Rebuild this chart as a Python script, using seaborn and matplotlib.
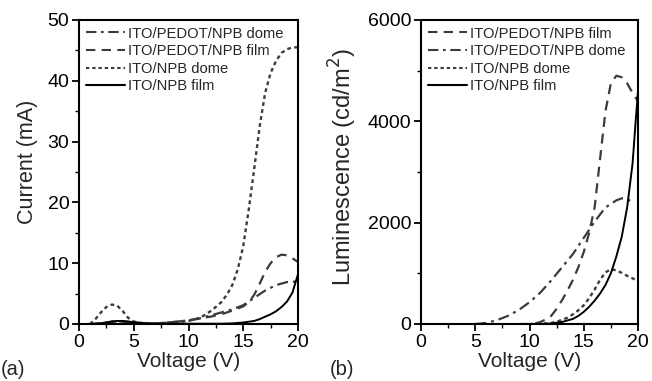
import matplotlib
matplotlib.use("Agg")
import matplotlib.pyplot as plt
from matplotlib.ticker import MultipleLocator
import numpy as np
import pandas as pd
import seaborn as sns

# ---------------- data: (a) current ----------------
cur_pedot_dome_v = [1.5, 2, 3, 4, 5, 6, 7, 8, 9, 10, 11, 12, 13, 14, 15, 16, 17, 18, 19, 20]
cur_pedot_dome_i = [0, 0.1, 0.4, 0.4, 0.3, 0.1, 0.1, 0.2, 0.4, 0.6, 0.9, 1.4, 1.9, 2.4, 3.1, 4.3, 5.5, 6.4, 6.9, 7.0]

cur_pedot_film_v = [1, 2, 3, 4, 5, 6, 7, 8, 9, 10, 11, 12, 13, 14, 15, 15.5, 16, 16.5, 17, 17.5, 18, 18.5, 19, 19.5, 20]
cur_pedot_film_i = [0, 0.1, 0.4, 0.4, 0.2, 0.1, 0.1, 0.2, 0.4, 0.6, 0.9, 1.2, 1.6, 2.2, 2.9, 3.6, 4.8, 6.6, 8.6, 10.0, 11.0, 11.4, 11.3, 10.8, 10.2]

cur_npb_dome_v = [1, 1.5, 2, 2.5, 3, 3.5, 4, 4.5, 5, 6, 7, 8, 9, 10, 11, 11.5, 12, 12.5, 13, 13.5, 14, 14.5, 15, 15.5, 16, 16.5, 17, 17.5, 18, 18.5, 19, 19.5, 20]
cur_npb_dome_i = [0, 0.8, 1.9, 2.8, 3.2, 3.0, 2.1, 1.0, 0.4, 0.1, 0.1, 0.2, 0.3, 0.5, 1.0, 1.5, 2.1, 2.8, 3.6, 4.8, 6.4, 9.0, 12.8, 18.8, 25.5, 32.5, 38.0, 41.3, 43.3, 44.6, 45.2, 45.5, 45.5]

cur_npb_film_v = [1, 2, 3, 3.5, 4, 5, 6, 7, 8, 9, 10, 11, 12, 13, 14, 15, 16, 16.5, 17, 17.5, 18, 18.5, 19, 19.5, 20]
cur_npb_film_i = [0, 0.1, 0.4, 0.5, 0.5, 0.3, 0.1, 0.05, 0.05, 0.05, 0.05, 0.05, 0.05, 0.05, 0.1, 0.25, 0.5, 0.8, 1.2, 1.6, 2.1, 2.8, 3.7, 5.2, 8.2]

# ---------------- data: (b) luminescence ----------------
lum_pedot_film_v = [9, 10, 10.5, 11, 11.5, 12, 12.5, 13, 13.5, 14, 14.5, 15, 15.5, 16, 16.5, 17, 17.5, 18, 18.5, 19, 19.5, 20]
lum_pedot_film_l = [0, 0, 10, 40, 90, 160, 300, 470, 660, 870, 1120, 1420, 1800, 2300, 3250, 4200, 4750, 4900, 4870, 4750, 4560, 4400]

lum_pedot_dome_v = [5, 6, 7, 8, 9, 10, 11, 12, 13, 14, 15, 16, 17, 18, 18.5, 19, 19.5]
lum_pedot_dome_l = [0, 20, 75, 160, 275, 430, 620, 860, 1120, 1380, 1700, 2020, 2300, 2440, 2480, 2470, 2400]

lum_npb_dome_v = [10, 11, 12, 12.5, 13, 13.5, 14, 14.5, 15, 15.5, 16, 16.5, 17, 17.5, 18, 18.5, 19, 19.5, 20]
lum_npb_dome_l = [0, 5, 20, 45, 80, 125, 190, 270, 370, 510, 680, 870, 1020, 1080, 1060, 1010, 950, 900, 850]

lum_npb_film_v = [11, 12, 13, 14, 14.5, 15, 15.5, 16, 16.5, 17, 17.5, 18, 18.5, 19, 19.5, 19.75, 20]
lum_npb_film_l = [0, 10, 40, 100, 160, 240, 340, 460, 600, 770, 1000, 1330, 1720, 2300, 3170, 3900, 4600]

sns.set_theme(style="ticks")
plt.rcParams["font.family"] = ["Liberation Sans", "DejaVu Sans"]

gray = "#3c3c3c"
styles = {
    "ITO/PEDOT/NPB dome": dict(color=gray, linestyle=(0, (5, 2.2, 1.3, 2.2)), linewidth=1.6),
    "ITO/PEDOT/NPB film": dict(color=gray, linestyle=(0, (4.5, 3.0)), linewidth=1.6),
    "ITO/NPB dome": dict(color=gray, linestyle=(0, (1.6, 1.4)), linewidth=1.7),
    "ITO/NPB film": dict(color="black", linestyle="-", linewidth=1.4),
}

fig = plt.figure(figsize=(6.52, 3.81), dpi=100)
axa = fig.add_axes([79 / 652, 57 / 381, 219 / 652, 304 / 381])
axb = fig.add_axes([421 / 652, 57 / 381, 217 / 652, 304 / 381])

cur_series = [
    ("ITO/PEDOT/NPB dome", cur_pedot_dome_v, cur_pedot_dome_i),
    ("ITO/PEDOT/NPB film", cur_pedot_film_v, cur_pedot_film_i),
    ("ITO/NPB dome", cur_npb_dome_v, cur_npb_dome_i),
    ("ITO/NPB film", cur_npb_film_v, cur_npb_film_i),
]
lum_series = [
    ("ITO/PEDOT/NPB film", lum_pedot_film_v, lum_pedot_film_l),
    ("ITO/PEDOT/NPB dome", lum_pedot_dome_v, lum_pedot_dome_l),
    ("ITO/NPB dome", lum_npb_dome_v, lum_npb_dome_l),
    ("ITO/NPB film", lum_npb_film_v, lum_npb_film_l),
]

for ax, series in ((axa, cur_series), (axb, lum_series)):
    for name, xv, yv in series:
        df = pd.DataFrame({"V": xv, "Y": yv})
        sns.lineplot(data=df, x="V", y="Y", ax=ax, label=name, **styles[name])

def style_axis(ax, ymax, ymajor, yminor, ylabel, ysize, ylab_x, ylab_y):
    ax.set_xlim(0, 20)
    ax.set_ylim(0, ymax)
    ax.xaxis.set_major_locator(MultipleLocator(5))
    ax.xaxis.set_minor_locator(MultipleLocator(2.5))
    ax.yaxis.set_major_locator(MultipleLocator(ymajor))
    ax.yaxis.set_minor_locator(MultipleLocator(yminor))
    ax.tick_params(which="major", direction="out", length=5, width=1.3, labelsize=14, pad=2, colors="black")
    ax.tick_params(which="minor", direction="out", length=3, width=1.0, colors="black")
    for sp in ax.spines.values():
        sp.set_visible(True)
        sp.set_linewidth(1.5)
        sp.set_color("black")
    ax.set_xlabel("Voltage (V)", fontsize=15)
    ax.xaxis.set_label_coords(0.5, (324 - 352) / 304)
    ax.set_ylabel(ylabel, fontsize=ysize)
    ax.yaxis.set_label_coords(ylab_x, ylab_y)
    leg = ax.legend(loc="upper left", frameon=False, fontsize=10.6, handlelength=2.7,
                    handletextpad=0.15, labelspacing=0.24, borderaxespad=0.2, borderpad=0.25)
    for line in leg.get_lines():
        line.set_linewidth(1.5)

style_axis(axa, 50, 10, 5, "Current (mA)", 15.5, (38 - 79) / 219, (324 - 162) / 304)
style_axis(axb, 6000, 2000, 1000, "Luminescence (cd/m$^2$)", 17, (359 - 421) / 217, (324 - 167) / 304)

fig.text(1 / 652, 1 - 379 / 381, "(a)", fontsize=14.5, ha="left", va="bottom")
fig.text(330 / 652, 1 - 379 / 381, "(b)", fontsize=14.5, ha="left", va="bottom")

fig.savefig("out.png", dpi=100)
